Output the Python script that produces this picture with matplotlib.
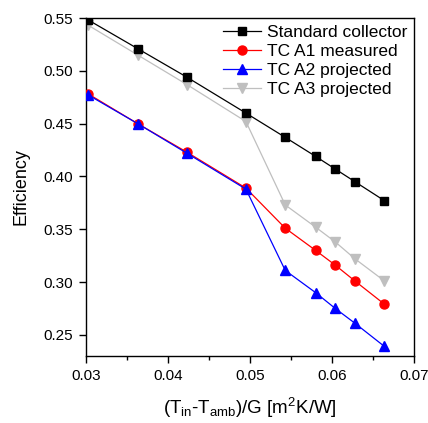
import matplotlib
matplotlib.use("Agg")
import matplotlib.pyplot as plt

plt.rcParams['font.family'] = ['Liberation Sans', 'DejaVu Sans']
plt.rcParams['mathtext.fontset'] = 'custom'
plt.rcParams['mathtext.rm'] = 'Liberation Sans'
plt.rcParams['mathtext.it'] = 'Liberation Sans'

x = [0.0303, 0.0363, 0.0423, 0.0495, 0.0543, 0.0580, 0.0604, 0.0628, 0.0664]
standard = [0.548, 0.521, 0.494, 0.460, 0.437, 0.419, 0.407, 0.395, 0.377]
tc_a1 = [0.478, 0.450, 0.423, 0.389, 0.351, 0.330, 0.316, 0.301, 0.279]
tc_a2 = [0.477, 0.450, 0.422, 0.388, 0.311, 0.290, 0.275, 0.261, 0.239]
tc_a3 = [0.543, 0.515, 0.487, 0.452, 0.373, 0.352, 0.338, 0.322, 0.301]
labels = ["Standard collector", "TC A1 measured", "TC A2 projected", "TC A3 projected"]

fig = plt.figure(figsize=(4.28, 4.23), dpi=100)
ax = fig.add_axes([86/428, 1-356/423, (414-86)/428, (356-18)/423])

ax.plot(x, standard, color='black', marker='s', ms=6, lw=0.9, label=labels[0], zorder=3)
ax.plot(x, tc_a1, color='red', marker='o', ms=6.5, lw=0.9, label=labels[1], zorder=3)
ax.plot(x, tc_a3, color='#bfbfbf', marker='v', ms=7, lw=0.9, label=labels[3], zorder=2)
ax.plot(x, tc_a2, color='blue', marker='^', ms=7, lw=0.9, label=labels[2], zorder=4)

h, l = ax.get_legend_handles_labels()
order = [0, 1, 3, 2]
ax.legend([h[i] for i in order], [l[i] for i in order], loc='upper right', frameon=False,
          fontsize=12.5, handlelength=2.2, borderaxespad=0.0, labelspacing=0.22, handletextpad=0.3,
          bbox_to_anchor=(1.0, 1.0))

ax.set_xlim(0.03, 0.07)
ax.set_ylim(0.23, 0.55)
ax.set_xticks([0.03, 0.04, 0.05, 0.06, 0.07])
ax.set_xticklabels(['0.03', '0.04', '0.05', '0.06', '0.07'])
ax.set_xticks([0.035, 0.045, 0.055, 0.065], minor=True)
ax.set_yticks([0.25, 0.30, 0.35, 0.40, 0.45, 0.50, 0.55])
ax.set_yticklabels(['0.25', '0.30', '0.35', '0.40', '0.45', '0.50', '0.55'])
ax.tick_params(axis='both', which='major', direction='out', length=5, width=1, labelsize=11, pad=4)
ax.tick_params(axis='x', which='minor', direction='out', length=3, width=1)
for s in ax.spines.values():
    s.set_linewidth(1)

ax.set_ylabel('Efficiency', fontsize=13, labelpad=10)
ax.set_xlabel(r'(T$_{\mathrm{in}}$-T$_{\mathrm{amb}}$)/G [m$^{\mathrm{2}}$K/W]', fontsize=13.5, labelpad=10)

fig.savefig('out.png', dpi=100)
